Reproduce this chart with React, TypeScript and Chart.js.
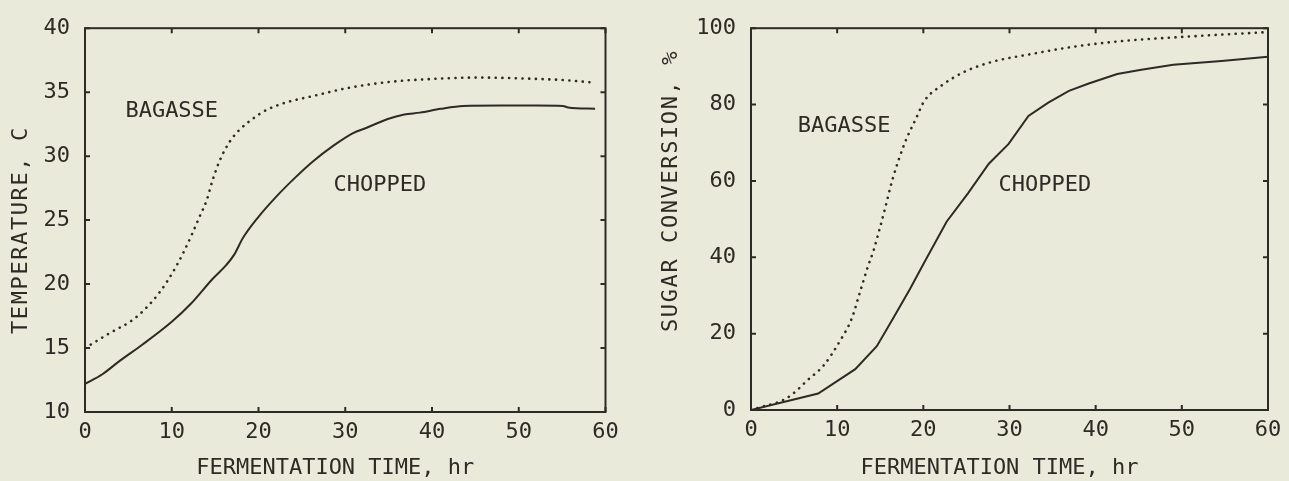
import React, { useEffect, useRef } from "react";
import { Chart, registerables } from "chart.js";

Chart.register(...registerables);

// ---- Data: left panel (temperature, C) ----
const choppedTempTime = [0, 2, 4, 6.6, 10, 12.2, 14.7, 16.3, 17.2, 18.2, 20, 22, 24.2, 26.3, 28.6, 30.9, 32.4, 34.9, 36.8, 38.6, 41, 43.6, 48, 52, 55.1, 55.7, 58.8];
const choppedTemp = [12.2, 12.95, 14.0, 15.26, 17.05, 18.46, 20.4, 21.5, 22.3, 23.6, 25.26, 26.8, 28.3, 29.6, 30.8, 31.8, 32.2, 32.9, 33.25, 33.4, 33.7, 33.92, 33.95, 33.95, 33.92, 33.8, 33.7];
const bagasseTempTime = [0, 2.8, 5.5, 7, 8.6, 10.1, 11.3, 12.4, 13.2, 14, 14.7, 15.5, 16.7, 17.8, 19.3, 20.9, 23.2, 26.3, 30.1, 34.7, 39, 45.5, 50.1, 55, 58.6];
const bagasseTemp = [15.0, 16.15, 17.2, 18.1, 19.36, 20.9, 22.4, 24.0, 25.26, 26.5, 28.1, 29.6, 31.15, 32.05, 32.9, 33.6, 34.2, 34.7, 35.3, 35.77, 36.0, 36.14, 36.08, 35.95, 35.75];

// ---- Data: right panel (sugar conversion, %) ----
const choppedSugarTime = [0, 7.8, 12.1, 14.6, 16.5, 18.45, 20.2, 22.7, 25.2, 27.6, 29.9, 32.2, 34.5, 36.9, 39.2, 42.5, 45.3, 49, 54.6, 60];
const choppedSugar = [0, 4.3, 10.7, 16.7, 24.0, 31.7, 39.0, 49.3, 56.8, 64.5, 69.7, 77, 80.5, 83.6, 85.5, 88, 89.1, 90.4, 91.4, 92.5];
const bagasseSugarTime = [0, 1, 3.75, 5, 6.5, 8.4, 10.3, 11.7, 12.65, 13.6, 14.2, 15.0, 15.6, 16.4, 17.8, 19.2, 20.1, 22, 24.8, 28, 32.2, 37.3, 42.9, 49.9, 60];
const bagasseSugar = [0, 0.7, 2.6, 4.5, 7.7, 11.6, 18.0, 24.0, 30.9, 37.8, 41.6, 48.0, 53.2, 60.2, 69.7, 76.6, 80.9, 84.8, 88.6, 91.2, 93.1, 95.1, 96.6, 97.7, 99.0];

// ---- Text ----
const xTitle = "FERMENTATION TIME, hr";
const leftYTitle = "TEMPERATURE, C";
const rightYTitle = "SUGAR CONVERSION, %";
const seriesNames = ["BAGASSE", "CHOPPED"];

const INK = "#2f2a26";
const BG = "#e9eada";
const FONT = "'DejaVu Sans Mono', monospace";
const FSIZE = 22;

const zip = (xs: number[], ys: number[]) => xs.map((x, i) => ({ x, y: ys[i] }));

const framePlugin = {
  id: "frame",
  afterDraw(chart: any, _args: any, opts: any) {
    const { ctx, chartArea: a, scales } = chart;
    ctx.save();
    ctx.strokeStyle = INK;
    ctx.lineWidth = 2;
    ctx.strokeRect(a.left, a.top, a.right - a.left, a.bottom - a.top);
    const L = 5;
    ctx.beginPath();
    scales.x.ticks.forEach((t: any) => {
      const px = scales.x.getPixelForValue(t.value);
      ctx.moveTo(px, a.bottom);
      ctx.lineTo(px, a.bottom - L);
      ctx.moveTo(px, a.top);
      ctx.lineTo(px, a.top + L);
    });
    scales.y.ticks.forEach((t: any) => {
      const py = scales.y.getPixelForValue(t.value);
      ctx.moveTo(a.left, py);
      ctx.lineTo(a.left + L, py);
      ctx.moveTo(a.right, py);
      ctx.lineTo(a.right - L, py);
    });
    ctx.stroke();

    ctx.fillStyle = INK;
    ctx.font = `${FSIZE}px ${FONT}`;
    ctx.textAlign = "center";
    ctx.textBaseline = "middle";
    (opts.labels || []).forEach((l: any) => {
      ctx.fillText(l.text, scales.x.getPixelForValue(l.x), scales.y.getPixelForValue(l.y));
    });

    // axis titles
    ctx.fillText(opts.xTitle, (a.left + a.right) / 2 + opts.xTitleShift, chart.height - 13);
    ctx.save();
    try { (ctx as any).letterSpacing = "1.6px"; } catch (e) {}
    ctx.translate(opts.yTitleX, a.bottom - opts.yTitleStart);
    ctx.rotate(-Math.PI / 2);
    ctx.textAlign = "left";
    ctx.fillText(opts.yTitle, 0, 0);
    ctx.restore();
    ctx.restore();
  },
};

function makeConfig(p: any) {
  const font = { family: FONT, size: FSIZE };
  return {
    type: "line",
    data: {
      datasets: [
        {
          label: seriesNames[0],
          data: zip(p.bx, p.by),
          borderColor: INK,
          borderWidth: 2.6,
          borderDash: [0.1, 6.6],
          borderCapStyle: "round",
          pointRadius: 0,
          fill: false,
          cubicInterpolationMode: "monotone",
        },
        {
          label: seriesNames[1],
          data: zip(p.cx, p.cy),
          borderColor: INK,
          borderWidth: 2,
          pointRadius: 0,
          fill: false,
          cubicInterpolationMode: p.straight ? "default" : "monotone",
          tension: 0,
        },
      ],
    },
    options: {
      animation: false,
      responsive: false,
      devicePixelRatio: 1,
      layout: { padding: { left: 0, top: p.padTop, right: p.padRight, bottom: 0 } },
      plugins: {
        legend: { display: false },
        tooltip: { enabled: false },
        frame: {
          labels: p.labels,
          xTitle,
          xTitleShift: -10,
          yTitle: p.yTitle,
          yTitleX: p.yTitleX,
          yTitleStart: 78,
        },
      },
      scales: {
        x: {
          type: "linear",
          min: 0,
          max: 60,
          grid: { display: false, drawTicks: false },
          border: { display: false },
          ticks: { stepSize: 10, color: INK, font, padding: 7, maxRotation: 0 },
          afterFit: (s: any) => { s.height = p.xHeight; },
        },
        y: {
          type: "linear",
          min: p.ymin,
          max: p.ymax,
          grid: { display: false, drawTicks: false },
          border: { display: false },
          ticks: { stepSize: p.ystep, color: INK, font, padding: 15 },
          afterFit: (s: any) => { s.width = p.yWidth; },
        },
      },
    },
    plugins: [framePlugin],
  } as any;
}

function Panel(props: { left: number; width: number; cfg: any }) {
  const ref = useRef<HTMLCanvasElement>(null);
  useEffect(() => {
    const chart = new Chart(ref.current as HTMLCanvasElement, props.cfg);
    return () => chart.destroy();
  }, []);
  return (
    <canvas
      ref={ref}
      width={props.width}
      height={481}
      style={{ position: "absolute", left: props.left, top: 0, width: props.width, height: 481 }}
    />
  );
}

export default function App() {
  const leftCfg = makeConfig({
    bx: bagasseTempTime, by: bagasseTemp, cx: choppedTempTime, cy: choppedTemp,
    ymin: 10, ymax: 40, ystep: 5, yTitle: leftYTitle, yTitleX: 21,
    padTop: 24, padRight: 34.5, xHeight: 69, yWidth: 85,
    labels: [
      { text: seriesNames[0], x: 10.0, y: 33.5 },
      { text: seriesNames[1], x: 34.0, y: 27.7 },
    ],
  });
  const rightCfg = makeConfig({
    bx: bagasseSugarTime, by: bagasseSugar, cx: choppedSugarTime, cy: choppedSugar, straight: true,
    ymin: 0, ymax: 100, ystep: 20, yTitle: rightYTitle, yTitleX: 31,
    padTop: 21.5, padRight: 21, xHeight: 71, yWidth: 111,
    labels: [
      { text: seriesNames[0], x: 10.8, y: 74.2 },
      { text: seriesNames[1], x: 34.1, y: 58.8 },
    ],
  });
  return (
    <div style={{ position: "fixed", left: 0, top: 0, width: 1289, height: 481, background: BG, overflow: "hidden" }}>
      <Panel left={0} width={640} cfg={leftCfg} />
      <Panel left={640} width={649} cfg={rightCfg} />
    </div>
  );
}
